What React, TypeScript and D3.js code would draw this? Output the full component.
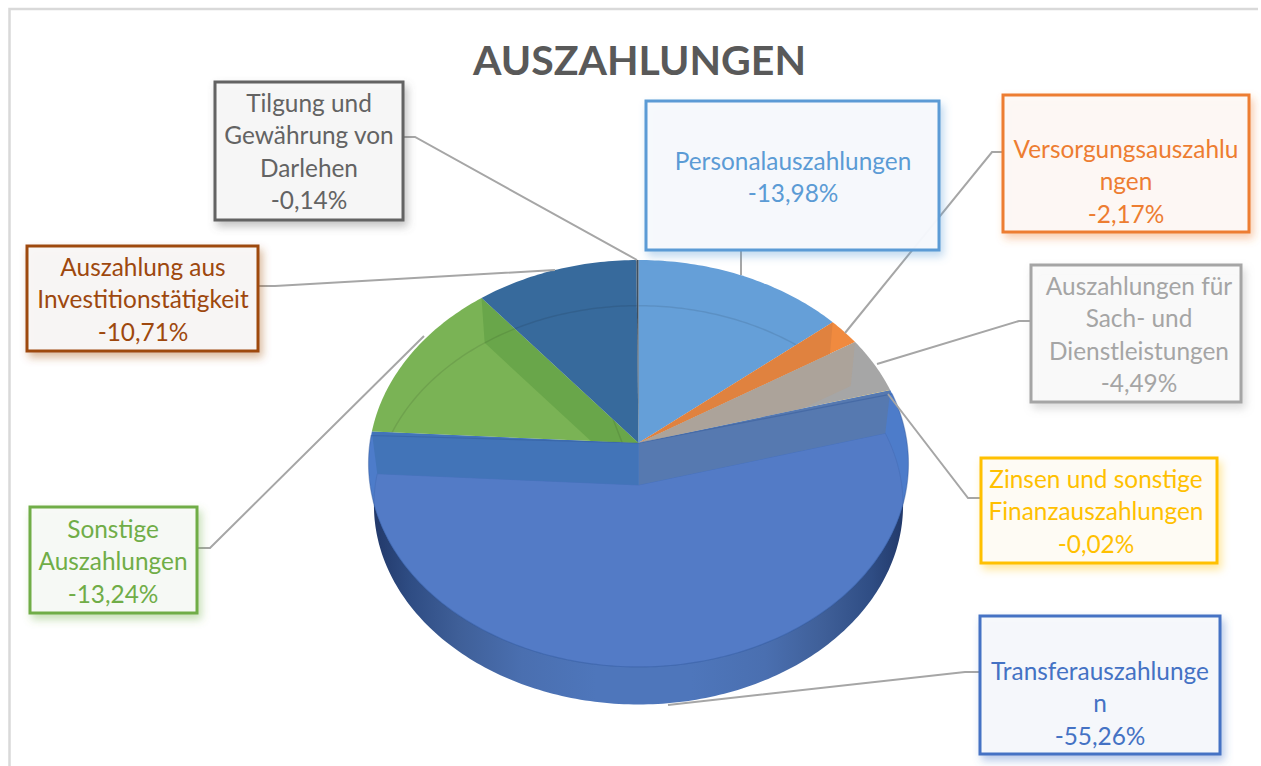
import React from 'react'
import * as d3 from 'd3'

const categories = [
  'Personalauszahlungen',
  'Versorgungsauszahlungen',
  'Auszahlungen für Sach- und Dienstleistungen',
  'Zinsen und sonstige Finanzauszahlungen',
  'Transferauszahlungen',
  'Sonstige Auszahlungen',
  'Auszahlung aus Investitionstätigkeit',
  'Tilgung und Gewährung von Darlehen',
]
const percents = [-13.98, -2.17, -4.49, -0.02, -55.26, -13.24, -10.71, -0.14]
const labelLines = [
  ['Personalauszahlungen'],
  ['Versorgungsauszahlu', 'ngen'],
  ['Auszahlungen für', 'Sach- und', 'Dienstleistungen'],
  ['Zinsen und sonstige', 'Finanzauszahlungen'],
  ['Transferauszahlunge', 'n'],
  ['Sonstige', 'Auszahlungen'],
  ['Auszahlung aus', 'Investitionstätigkeit'],
  ['Tilgung und', 'Gewährung von', 'Darlehen'],
]

const sliceColors = ['#659fd8', '#f08a3f', '#a6a6a6', '#ffc000', '#4d7cca', '#7ab355', '#376a9c', '#3f4f5f']
const labelColors = ['#5b9bd5', '#ed7d31', '#a5a5a5', '#ffc000', '#4472c4', '#70ad47', '#9e480e', '#636363']
const boxTints = ['#f8fafd', '#fdf9f6', '#fafafa', '#fefcf6', '#f7f9fc', '#f8faf7', '#f9f7f6', '#f8f8f8']

// x, y, w, h, centre of the text, centre of first line
const boxes = [
  [646, 101, 293, 149, 793, 161],
  [1003, 95, 246, 137, 1126, 149],
  [1031, 265, 210, 137, 1139, 286],
  [981, 458, 236, 105, 1096, 479],
  [980, 616, 240, 138, 1100, 671],
  [30, 507, 167, 106, 113, 529],
  [27, 246, 231, 105, 143, 267],
  [215, 82, 188, 138, 309, 103],
]
const leaders = [
  [[741, 251], [741, 275]],
  [[1004, 152], [992, 152], [845, 333]],
  [[1032, 321], [1019, 321], [877, 364]],
  [[982, 498], [968, 498], [888, 394]],
  [[980, 672], [965, 672], [668, 705]],
  [[197, 548], [210, 548], [424, 336]],
  [[258, 286], [275, 286], [555, 270]],
  [[403, 137], [415, 137], [637, 260]],
]

const W = 1261
const H = 766
const cx = 638.5
const cy = 443
const rx = 268.6
const ry = 201.4
const persp = 0.1007
const depth = 42
const bottomScale = 0.98

// perspective projection of the pie disc, level 0 = top face, 1 = bottom face
function project(theta: number, r: number, level: number): [number, number] {
  const u = r * Math.sin(theta)
  const v = -r * Math.cos(theta)
  const k = 1 - persp * v
  const s = level ? bottomScale : 1
  return [cx + (s * rx * u) / k, cy + (level ? depth : 0) + (s * ry * v) / k]
}

const arcs = d3.pie<number>().sort(null).value((d) => Math.abs(d))(percents)
const closed = d3.line().curve(d3.curveLinearClosed)
const open = d3.line()

function slicePath(a0: number, a1: number, level: number) {
  const n = Math.max(2, Math.ceil((a1 - a0) * 60))
  const rim = d3.range(n + 1).map((i) => project(a0 + ((a1 - a0) * i) / n, 1, level))
  return closed([project(0, 0, level), ...rim]) as string
}

// wall of a radial cut, from the top face down to the bottom face
function cutPath(angle: number) {
  return closed([project(0, 0, 0), project(angle, 1, 0), project(angle, 1, 1), project(0, 0, 1)]) as string
}

const pctLabel = d3.format('.2f')
const fmt = (v: number) => pctLabel(v).replace('.', ',').replace('−', '-') + '%'

const BLUE = 4
const fontFamily = 'Lato, "Open Sans", sans-serif'

export default function App() {
  const blue = arcs[BLUE]
  return (
    <svg width={W} height={H} style={{ position: 'absolute', left: 0, top: 0, display: 'block', background: '#fff' }}>
      <defs>
        <linearGradient id="wall" x1="0" x2="1" y1="0" y2="0">
          <stop offset="0" stopColor="#22396a" />
          <stop offset="0.07" stopColor="#2f4d84" />
          <stop offset="0.16" stopColor="#3f5f98" />
          <stop offset="0.28" stopColor="#4a6fb0" />
          <stop offset="0.42" stopColor="#4e76bb" />
          <stop offset="0.6" stopColor="#4e76bb" />
          <stop offset="0.74" stopColor="#4a6fb0" />
          <stop offset="0.85" stopColor="#3f5f98" />
          <stop offset="0.94" stopColor="#2f4d84" />
          <stop offset="1" stopColor="#22396a" />
        </linearGradient>
        {arcs.map((a, i) => (
          <clipPath id={`top-${i}`} key={i}>
            <path d={slicePath(a.startAngle, a.endAngle, 0)} />
          </clipPath>
        ))}
        {labelColors.map((c, i) => (
          <filter id={`shadow-${i}`} key={i} x="-10%" y="-10%" width="125%" height="130%">
            <feDropShadow dx="3" dy="5" stdDeviation="4" floodColor={c} floodOpacity="0.4" />
          </filter>
        ))}
      </defs>

      <path d="M9.5,766 V9 H1258" fill="none" stroke="#d9d9d9" strokeWidth={2.5} />

      <text x={639.5} y={75} textAnchor="middle" fontFamily={fontFamily} fontWeight={700} fontSize={41} fill="#595959">
        AUSZAHLUNGEN
      </text>

      {/* blue wall below the top face */}
      <path d={slicePath(blue.startAngle, blue.endAngle, 1)} fill="url(#wall)" />

      {arcs.map((a, i) => (
        <path key={i} d={slicePath(a.startAngle, a.endAngle, 0)} fill={sliceColors[i]} />
      ))}

      {/* cuts seen through the transparent slices */}
      <g clipPath="url(#top-1)">
        <path d={cutPath(arcs[1].startAngle)} fill="#e0823f" />
      </g>
      <g clipPath="url(#top-2)">
        <path d={cutPath(arcs[2].startAngle)} fill="#aca39a" />
      </g>
      <g clipPath="url(#top-5)">
        <path d={cutPath(arcs[5].endAngle)} fill="#69a64a" />
      </g>
      <g clipPath={`url(#top-${BLUE})`}>
        <path d={slicePath(blue.startAngle, blue.endAngle, 1)} fill="#537bc6" stroke="#4a73bd" strokeWidth={1} />
        <path d={cutPath(blue.startAngle)} fill="#5679b0" />
        <path d={cutPath(blue.endAngle)} fill="#4274b8" />
      </g>

      {/* far rim of the bottom face, faint */}
      {[0, 5, 6].map((i) => (
        <g key={i} clipPath={`url(#top-${i})`}>
          <path d={slicePath(arcs[i].startAngle - 0.4, arcs[i].endAngle + 0.4, 1)} fill="none" stroke="#000" strokeOpacity={0.09} strokeWidth={1.5} />
        </g>
      ))}

      {/* edge between wall and top face */}
      <path d={slicePath(blue.startAngle + 0.02, blue.endAngle - 0.02, 0)} fill="none" stroke="#2f5597" strokeOpacity={0.4} strokeWidth={1.2} />

      {leaders.map((pts, i) => (
        <path key={i} d={open(pts as [number, number][]) as string} fill="none" stroke="#a6a6a6" strokeWidth={2} />
      ))}

      {categories.map((name, i) => {
        const [x, y, w, h, tx, ty] = boxes[i]
        const lines = [...labelLines[i], fmt(percents[i])]
        return (
          <g key={name}>
            <rect x={x} y={y} width={w} height={h} fill={boxTints[i]} fillOpacity={0.95} stroke={labelColors[i]} strokeWidth={3} filter={`url(#shadow-${i})`} />
            <text fontFamily={fontFamily} fontSize={24.4} fill={labelColors[i]} textAnchor="middle">
              {lines.map((t, j) => (
                <tspan key={j} x={tx} y={ty + j * 32.5} dy="0.35em">
                  {t}
                </tspan>
              ))}
            </text>
          </g>
        )
      })}
    </svg>
  )
}
